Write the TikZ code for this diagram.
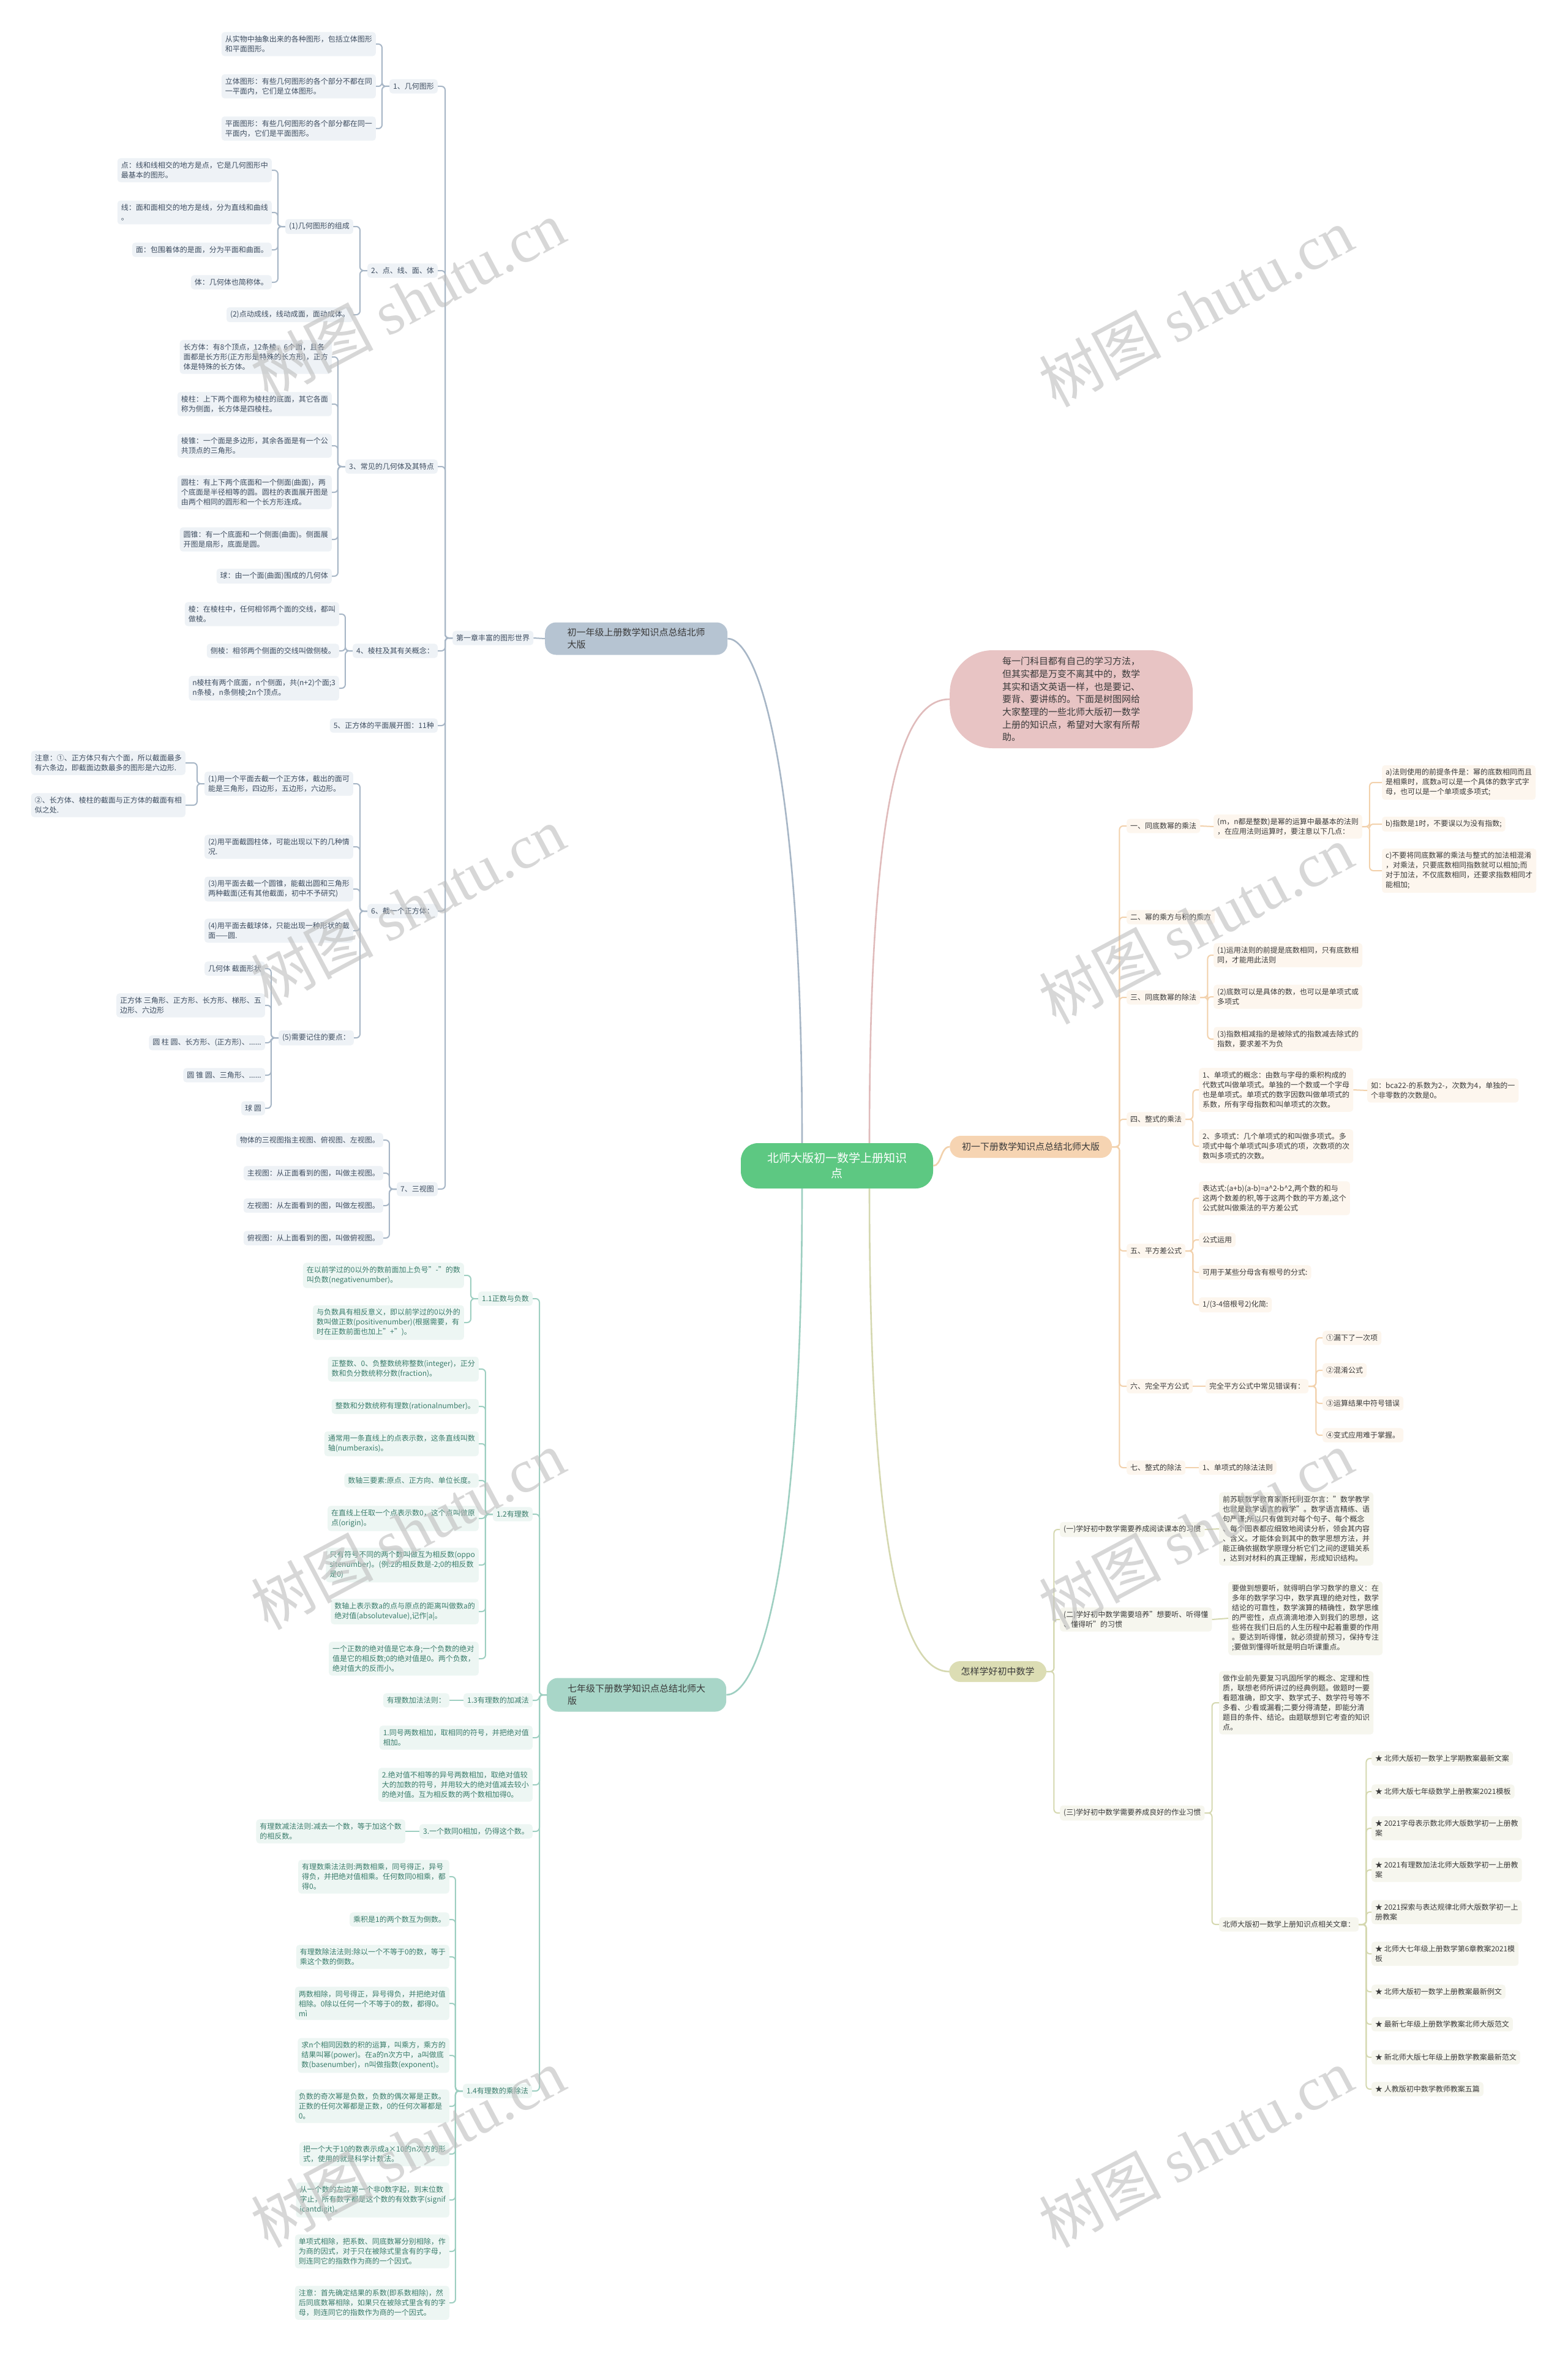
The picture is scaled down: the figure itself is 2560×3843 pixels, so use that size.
\documentclass[tikz,border=0pt]{standalone}
\usepackage{fontspec}
\setmainfont{Noto Sans CJK SC}
\newfontfamily\wmlatin{Liberation Serif}
\usetikzlibrary{calc}
\definecolor{bline}{HTML}{A7B6C6}
\definecolor{bfill}{HTML}{EEF2F6}
\definecolor{btext}{HTML}{3E4D60}
\definecolor{bmain}{HTML}{B6C4D2}
\definecolor{tline}{HTML}{9ECFC1}
\definecolor{tfill}{HTML}{EDF6F3}
\definecolor{ttext}{HTML}{3B7D6C}
\definecolor{tmain}{HTML}{A8D6C8}
\definecolor{pline}{HTML}{F2D1AC}
\definecolor{pfill}{HTML}{FDF6EE}
\definecolor{ptext}{HTML}{3A3A3A}
\definecolor{pmain}{HTML}{F6D4B2}
\definecolor{oline}{HTML}{D5D8B0}
\definecolor{ofill}{HTML}{F6F6EE}
\definecolor{omain}{HTML}{DCDDB4}
\definecolor{kfill}{HTML}{E8C4C4}
\definecolor{kline}{HTML}{E0BBBB}
\definecolor{cfill}{HTML}{5DC882}
\definecolor{wmark}{HTML}{BDBDBD}
\newcommand\mkL[4]{\node[#1,anchor=east] (#2) at (#3) {#4};}
\newcommand\mkR[4]{\node[#1,anchor=west] (#2) at (#3) {#4};}
\newcommand\lkL[3]{\draw[#1] (#2.west) -- ++(-12,0) |- (#3.east);}
\newcommand\lkR[3]{\draw[#1] (#2.east) -- ++(12,0) |- (#3.west);}
\tikzset{
  bx/.style={rounded corners=5pt, inner xsep=6pt, inner ysep=6pt, align=left, font=\fontsize{12}{16}\selectfont},
  bb/.style={bx, fill=bfill, text=btext},
  tb/.style={bx, fill=tfill, text=ttext},
  pb/.style={bx, fill=pfill, text=ptext},
  ob/.style={bx, fill=ofill, text=ptext},
  lnk/.style={line width=2pt, rounded corners=6pt},
  bln/.style={lnk, draw=bline},
  tln/.style={lnk, draw=tline},
  pln/.style={lnk, draw=pline},
  oln/.style={lnk, draw=oline},
  mainlink/.style={line width=2.6pt},
  topic/.style={rounded corners=18pt, font=\fontsize{15}{20}\selectfont, text=ptext},
  wm/.style={text=wmark, opacity=0.6, rotate=28, font=\fontsize{100}{100}\selectfont}
}
\begin{document}
\begin{tikzpicture}[x=1pt,y=-1pt]
\useasboundingbox[fill=white] (0,0) rectangle (2560,3843);

% ---------------- centre and topics
\node[fill=cfill, rounded corners=28pt, minimum width=314, minimum height=74, align=center, text=white, font=\fontsize{19}{25}\selectfont] (C) at (1367,1904) {北师大版初一数学上册知识\\点};
\mkR{topic, fill=bmain, minimum width=298, minimum height=53, align=left, inner xsep=28pt}{M1}{890,1043}{初一年级上册数学知识点总结北师\\大版}
\mkR{topic, fill=tmain, minimum width=293, minimum height=55, align=left, inner xsep=28pt}{M2}{893,2768}{七年级下册数学知识点总结北师大\\版}
\mkR{topic, fill=kfill, rounded corners=70pt, minimum width=397, minimum height=160, align=left, font=\fontsize{15}{20.7}\selectfont}{P}{1551,1142}{每一门科目都有自己的学习方法，\\但其实都是万变不离其中的，数学\\其实和语文英语一样，也是要记、\\要背、要讲练的。下面是树图网给\\大家整理的一些北师大版初一数学\\上册的知识点，希望对大家有所帮\\助。}
\mkR{topic, fill=pmain, minimum width=265, minimum height=36}{M3}{1551,1873}{初一下册数学知识点总结北师大版}
\mkR{topic, fill=omain, minimum width=159, minimum height=34}{M4}{1550,2730}{怎样学好初中数学}

% ---------------- first chapter (blue)
\mkR{bb}{CH1}{739,1042}{第一章丰富的图形世界}
\mkL{bb}{L1}{715,141}{1、几何图形}
\mkL{bb}{A1}{614,72}{从实物中抽象出来的各种图形，包括立体图形\\和平面图形。}
\mkL{bb}{A2}{614,141}{立体图形：有些几何图形的各个部分不都在同\\一平面内，它们是立体图形。}
\mkL{bb}{A3}{614,210}{平面图形：有些几何图形的各个部分都在同一\\平面内，它们是平面图形。}
\mkL{bb}{L2}{715,442}{2、点、线、面、体}
\mkL{bb}{B}{577,370}{(1)几何图形的组成}
\mkL{bb}{B1}{444,278}{点：线和线相交的地方是点，它是几何图形中\\最基本的图形。}
\mkL{bb}{B2}{444,347}{线：面和面相交的地方是线，分为直线和曲线\\。}
\mkL{bb}{B3}{444,408}{面：包围着体的是面，分为平面和曲面。}
\mkL{bb}{B4}{444,461}{体：几何体也简称体。}
\mkL{bb}{B5}{577,514}{(2)点动成线，线动成面，面动成体。}
\mkL{bb}{L3}{715,762}{3、常见的几何体及其特点}
\mkL{bb}{C1}{542,583}{长方体：有8个顶点，12条棱，6个面，且各\\面都是长方形(正方形是特殊的长方形)，正方\\体是特殊的长方体。}
\mkL{bb}{C2}{542,660}{棱柱：上下两个面称为棱柱的底面，其它各面\\称为侧面，长方体是四棱柱。}
\mkL{bb}{C3}{542,728}{棱锥：一个面是多边形，其余各面是有一个公\\共顶点的三角形。}
\mkL{bb}{C4}{542,804}{圆柱：有上下两个底面和一个侧面(曲面)，两\\个底面是半径相等的圆。圆柱的表面展开图是\\由两个相同的圆形和一个长方形连成。}
\mkL{bb}{C5}{542,881}{圆锥：有一个底面和一个侧面(曲面)。侧面展\\开图是扇形，底面是圆。}
\mkL{bb}{C6}{542,941}{球：由一个面(曲面)围成的几何体}
\mkL{bb}{L4}{715,1063}{4、棱柱及其有关概念：}
\mkL{bb}{D1}{554,1003}{棱：在棱柱中，任何相邻两个面的交线，都叫\\做棱。}
\mkL{bb}{D2}{554,1063}{侧棱：相邻两个侧面的交线叫做侧棱。}
\mkL{bb}{D3}{554,1124}{n棱柱有两个底面，n个侧面，共(n+2)个面;3\\n条棱，n条侧棱;2n个顶点。}
\mkL{bb}{L5}{715,1185}{5、正方体的平面展开图：11种}
\mkL{bb}{L6}{715,1488}{6、截一个正方体：}
\mkL{bb}{E1}{577,1280}{(1)用一个平面去截一个正方体，截出的面可\\能是三角形，四边形，五边形，六边形。}
\mkL{bb}{E1a}{303,1246}{注意：①、正方体只有六个面，所以截面最多\\有六条边，即截面边数最多的图形是六边形.}
\mkL{bb}{E1b}{303,1315}{②、长方体、棱柱的截面与正方体的截面有相\\似之处.}
\mkL{bb}{E2}{577,1383}{(2)用平面截圆柱体，可能出现以下的几种情\\况.}
\mkL{bb}{E3}{577,1452}{(3)用平面去截一个圆锥，能截出圆和三角形\\两种截面(还有其他截面，初中不予研究)}
\mkL{bb}{E4}{577,1520}{(4)用平面去截球体，只能出现一种形状的截\\面——圆.}
\mkL{bb}{E5}{578,1695}{(5)需要记住的要点：}
\mkL{bb}{E5a}{433,1582}{几何体 截面形状}
\mkL{bb}{E5b}{433,1642}{正方体 三角形、正方形、长方形、梯形、五\\边形、六边形}
\mkL{bb}{E5c}{433,1703}{圆 柱 圆、长方形、(正方形)、......}
\mkL{bb}{E5d}{433,1756}{圆 锥 圆、三角形、......}
\mkL{bb}{E5e}{433,1810}{球 圆}
\mkL{bb}{L7}{715,1942}{7、三视图}
\mkL{bb}{F1}{626,1862}{物体的三视图指主视图、俯视图、左视图。}
\mkL{bb}{F2}{626,1916}{主视图：从正面看到的图，叫做主视图。}
\mkL{bb}{F3}{626,1969}{左视图：从左面看到的图，叫做左视图。}
\mkL{bb}{F4}{626,2022}{俯视图：从上面看到的图，叫做俯视图。}

% ---------------- seventh grade (teal)
\mkL{tb}{G1}{870,2121}{1.1正数与负数}
\mkL{tb}{G1a}{758,2083}{在以前学过的0以外的数前面加上负号"-"的数\\叫负数(negativenumber)。}
\mkL{tb}{G1b}{758,2160}{与负数具有相反意义，即以前学过的0以外的\\数叫做正数(positivenumber)(根据需要，有\\时在正数前面也加上"+")。}
\mkL{tb}{G2}{870,2473}{1.2有理数}
\mkL{tb}{G2a}{782,2236}{正整数、0、负整数统称整数(integer)，正分\\数和负分数统称分数(fraction)。}
\mkL{tb}{G2b}{782,2297}{整数和分数统称有理数(rationalnumber)。}
\mkL{tb}{G2c}{782,2358}{通常用一条直线上的点表示数，这条直线叫数\\轴(numberaxis)。}
\mkL{tb}{G2d}{782,2418}{数轴三要素:原点、正方向、单位长度。}
\mkL{tb}{G2e}{782,2480}{在直线上任取一个点表示数0，这个点叫做原\\点(origin)。}
\mkL{tb}{G2f}{782,2556}{只有符号不同的两个数叫做互为相反数(oppo\\sitenumber)。(例:2的相反数是-2;0的相反数\\是0)}
\mkL{tb}{G2g}{782,2632}{数轴上表示数a的点与原点的距离叫做数a的\\绝对值(absolutevalue),记作|a|。}
\mkL{tb}{G2h}{782,2709}{一个正数的绝对值是它本身;一个负数的绝对\\值是它的相反数;0的绝对值是0。两个负数，\\绝对值大的反而小。}
\mkL{tb}{G3}{870,2777}{1.3有理数的加减法}
\mkL{tb}{G3a}{734,2777}{有理数加法法则：}
\mkL{tb}{G4}{870,2838}{1.同号两数相加，取相同的符号，并把绝对值\\相加。}
\mkL{tb}{G5}{870,2915}{2.绝对值不相等的异号两数相加，取绝对值较\\大的加数的符号，并用较大的绝对值减去较小\\的绝对值。互为相反数的两个数相加得0。}
\mkL{tb}{G6}{870,2991}{3.一个数同0相加，仍得这个数。}
\mkL{tb}{G6a}{662,2991}{有理数减法法则:减去一个数，等于加这个数\\的相反数。}
\mkL{tb}{G7}{869,3415}{1.4有理数的乘除法}
\mkL{tb}{G7a}{734,3065}{有理数乘法法则:两数相乘，同号得正，异号\\得负，并把绝对值相乘。任何数同0相乘，都\\得0。}
\mkL{tb}{G7b}{734,3135}{乘积是1的两个数互为倒数。}
\mkL{tb}{G7c}{734,3196}{有理数除法法则:除以一个不等于0的数，等于\\乘这个数的倒数。}
\mkL{tb}{G7d}{734,3272}{两数相除，同号得正，异号得负，并把绝对值\\相除。0除以任何一个不等于0的数，都得0。\\mì}
\mkL{tb}{G7e}{734,3357}{求n个相同因数的积的运算，叫乘方，乘方的\\结果叫幂(power)。在a的n次方中，a叫做底\\数(basenumber)，n叫做指数(exponent)。}
\mkL{tb}{G7f}{734,3440}{负数的奇次幂是负数，负数的偶次幂是正数。\\正数的任何次幂都是正数，0的任何次幂都是\\0。}
\mkL{tb}{G7g}{734,3518}{把一个大于10的数表示成a×10的n次方的形\\式，使用的就是科学计数法。}
\mkL{tb}{G7h}{734,3593}{从一个数的左边第一个非0数字起，到末位数\\字止，所有数字都是这个数的有效数字(signif\\icantdigit)。}
\mkL{tb}{G7i}{734,3677}{单项式相除，把系数、同底数幂分别相除，作\\为商的因式，对于只在被除式里含有的字母，\\则连同它的指数作为商的一个因式。}
\mkL{tb}{G7j}{734,3761}{注意：首先确定结果的系数(即系数相除)，然\\后同底数幂相除，如果只在被除式里含有的字\\母，则连同它的指数作为商的一个因式。}

% ---------------- lower book (peach)
\mkR{pb}{R1}{1840,1349}{一、同底数幂的乘法}
\mkR{pb}{R1a}{1982,1350}{(m，n都是整数)是幂的运算中最基本的法则\\，在应用法则运算时，要注意以下几点：}
\mkR{pb}{R1a1}{2257,1278}{a)法则使用的前提条件是：幂的底数相同而且\\是相乘时，底数a可以是一个具体的数字式字\\母，也可以是一个单项或多项式;}
\mkR{pb}{R1a2}{2257,1346}{b)指数是1时，不要误以为没有指数;}
\mkR{pb}{R1a3}{2257,1422}{c)不要将同底数幂的乘法与整式的加法相混淆\\，对乘法，只要底数相同指数就可以相加;而\\对于加法，不仅底数相同，还要求指数相同才\\能相加;}
\mkR{pb}{R2}{1840,1498}{二、幂的乘方与积的乘方}
\mkR{pb}{R3}{1840,1629}{三、同底数幂的除法}
\mkR{pb}{R3a}{1982,1560}{(1)运用法则的前提是底数相同，只有底数相\\同，才能用此法则}
\mkR{pb}{R3b}{1982,1628}{(2)底数可以是具体的数，也可以是单项式或\\多项式}
\mkR{pb}{R3c}{1982,1697}{(3)指数相减指的是被除式的指数减去除式的\\指数，要求差不为负}
\mkR{pb}{R4}{1840,1828}{四、整式的乘法}
\mkR{pb}{R4a}{1958,1780}{1、单项式的概念：由数与字母的乘积构成的\\代数式叫做单项式。单独的一个数或一个字母\\也是单项式。单项式的数字因数叫做单项式的\\系数，所有字母指数和叫单项式的次数。}
\mkR{pb}{R4a1}{2233,1781}{如：bca22-的系数为2-，次数为4，单独的一\\个非零数的次数是0。}
\mkR{pb}{R4b}{1958,1872}{2、多项式：几个单项式的和叫做多项式。多\\项式中每个单项式叫多项式的项，次数项的次\\数叫多项式的次数。}
\mkR{pb}{R5}{1840,2043}{五、平方差公式}
\mkR{pb}{R5a}{1958,1957}{表达式:(a+b)(a-b)=a\textasciicircum2-b\textasciicircum2,两个数的和与\\这两个数差的积,等于这两个数的平方差,这个\\公式就叫做乘法的平方差公式}
\mkR{pb}{R5b}{1958,2025}{公式运用}
\mkR{pb}{R5c}{1958,2078}{可用于某些分母含有根号的分式:}
\mkR{pb}{R5d}{1958,2131}{1/(3-4倍根号2)化简:}
\mkR{pb}{R6}{1840,2264}{六、完全平方公式}
\mkR{pb}{R6a}{1969,2264}{完全平方公式中常见错误有：}
\mkR{pb}{R6a1}{2160,2185}{①漏下了一次项}
\mkR{pb}{R6a2}{2160,2238}{②混淆公式}
\mkR{pb}{R6a3}{2160,2292}{③运算结果中符号错误}
\mkR{pb}{R6a4}{2160,2344}{④变式应用难于掌握。}
\mkR{pb}{R7}{1840,2397}{七、整式的除法}
\mkR{pb}{R7a}{1958,2397}{1、单项式的除法法则}

% ---------------- how to learn (olive)
\mkR{ob}{S1}{1731,2498}{(一)学好初中数学需要养成阅读课本的习惯}
\mkR{ob}{S1a}{1991,2497}{前苏联数学教育家斯托利亚尔言："数学教学\\也就是数学语言的教学"。数学语言精练、语\\句严谨;所以只有做到对每个句子、每个概念\\、每个图表都应细致地阅读分析，领会其内容\\、含义。才能体会到其中的数学思想方法，并\\能正确依据数学原理分析它们之间的逻辑关系\\，达到对材料的真正理解，形成知识结构。}
\mkR{ob}{S2}{1731,2645}{(二)学好初中数学需要培养"想要听、听得懂\\、懂得听"的习惯}
\mkR{ob}{S2a}{2006,2643}{要做到想要听，就得明白学习数学的意义：在\\多年的数学学习中，数学真理的绝对性，数学\\结论的可靠性，数学演算的精确性，数学思维\\的严密性，点点滴滴地渗入到我们的思想，这\\些将在我们日后的人生历程中起着重要的作用\\。要达到听得懂，就必须提前预习，保持专注\\;要做到懂得听就是明白听课重点。}
\mkR{ob}{S3}{1731,2961}{(三)学好初中数学需要养成良好的作业习惯}
\mkR{ob}{S3a}{1991,2781}{做作业前先要复习巩固所学的概念、定理和性\\质，联想老师所讲过的经典例题。做题时一要\\看题准确，即文字、数学式子、数学符号等不\\多看、少看或漏看;二要分得清楚，即能分清\\题目的条件、结论。由题联想到它考查的知识\\点。}
\mkR{ob}{S3b}{1991,3143}{北师大版初一数学上册知识点相关文章：}
\mkR{ob}{K1}{2240,2872}{★ 北师大版初一数学上学期教案最新文案}
\mkR{ob}{K2}{2240,2926}{★ 北师大版七年级数学上册教案2021模板}
\mkR{ob}{K3}{2240,2986}{★ 2021字母表示数北师大版数学初一上册教\\案}
\mkR{ob}{K4}{2240,3054}{★ 2021有理数加法北师大版数学初一上册教\\案}
\mkR{ob}{K5}{2240,3123}{★ 2021探索与表达规律北师大版数学初一上\\册教案}
\mkR{ob}{K6}{2240,3191}{★ 北师大七年级上册数学第6章教案2021模\\板}
\mkR{ob}{K7}{2240,3253}{★ 北师大版初一数学上册教案最新例文}
\mkR{ob}{K8}{2240,3306}{★ 最新七年级上册数学教案北师大版范文}
\mkR{ob}{K9}{2240,3360}{★ 新北师大版七年级上册数学教案最新范文}
\mkR{ob}{K10}{2240,3412}{★ 人教版初中数学教师教案五篇}

% ---------------- links blue
\draw[bln] (CH1.east) -- (M1.west);
\foreach \c in {L1,L2,L3,L4,L5,L6,L7} {\lkL{bln}{CH1}{\c}}
\foreach \c in {A1,A2,A3} {\lkL{bln}{L1}{\c}}
\foreach \c in {B,B5} {\lkL{bln}{L2}{\c}}
\foreach \c in {B1,B2,B3,B4} {\lkL{bln}{B}{\c}}
\foreach \c in {C1,C2,C3,C4,C5,C6} {\lkL{bln}{L3}{\c}}
\foreach \c in {D1,D2,D3} {\lkL{bln}{L4}{\c}}
\foreach \c in {E1,E2,E3,E4,E5} {\lkL{bln}{L6}{\c}}
\foreach \c in {E1a,E1b} {\lkL{bln}{E1}{\c}}
\foreach \c in {E5a,E5b,E5c,E5d,E5e} {\lkL{bln}{E5}{\c}}
\foreach \c in {F1,F2,F3,F4} {\lkL{bln}{L7}{\c}}
% teal
\foreach \c in {G1,G2,G3,G4,G5,G6,G7} {\lkL{tln}{M2}{\c}}
\foreach \c in {G1a,G1b} {\lkL{tln}{G1}{\c}}
\foreach \c in {G2a,G2b,G2c,G2d,G2e,G2f,G2g,G2h} {\lkL{tln}{G2}{\c}}
\draw[tln] (G3.west) -- (G3a.east);
\draw[tln] (G6.west) -- (G6a.east);
\foreach \c in {G7a,G7b,G7c,G7d,G7e,G7f,G7g,G7h,G7i,G7j} {\lkL{tln}{G7}{\c}}
% peach
\foreach \c in {R1,R2,R3,R4,R5,R6,R7} {\lkR{pln}{M3}{\c}}
\draw[pln] (R1.east) -- (R1a.west);
\foreach \c in {R1a1,R1a2,R1a3} {\lkR{pln}{R1a}{\c}}
\foreach \c in {R3a,R3b,R3c} {\lkR{pln}{R3}{\c}}
\foreach \c in {R4a,R4b} {\lkR{pln}{R4}{\c}}
\draw[pln] (R4a.east) -- (R4a1.west);
\foreach \c in {R5a,R5b,R5c,R5d} {\lkR{pln}{R5}{\c}}
\draw[pln] (R6.east) -- (R6a.west);
\foreach \c in {R6a1,R6a2,R6a3,R6a4} {\lkR{pln}{R6a}{\c}}
\draw[pln] (R7.east) -- (R7a.west);
% olive
\foreach \c in {S1,S2,S3} {\lkR{oln}{M4}{\c}}
\draw[oln] (S1.east) -- (S1a.west);
\draw[oln] (S2.east) -- (S2a.west);
\foreach \c in {S3a,S3b} {\lkR{oln}{S3}{\c}}
\foreach \c in {K1,K2,K3,K4,K5,K6,K7,K8,K9,K10} {\lkR{oln}{S3b}{\c}}

% ---------------- main links from the centre
\draw[mainlink, bline] ($(C.north)+(-57,0)$) .. controls ($(C.north)+(-57,-600)$) and (1240,1043) .. (M1.east);
\draw[mainlink, tline] ($(C.south)+(-57,0)$) .. controls ($(C.south)+(-57,620)$) and (1240,2768) .. (M2.east);
\draw[mainlink, kline] ($(C.north)+(53,0)$) .. controls ($(C.north)+(53,-600)$) and (1480,1142) .. (P.west);
\draw[mainlink, pline] (C.east) .. controls (1538,1904) and (1536,1873) .. (M3.west);
\draw[mainlink, oline] ($(C.south)+(53,0)$) .. controls ($(C.south)+(53,620)$) and (1480,2730) .. (M4.west);

% ---------------- watermarks
\foreach \wx/\wy [count=\i] in {666/490, 1953/502, 666/1480, 1953/1510, 666/2499, 1953/2499, 666/3508, 1953/3508} {
  \node[wm] (W\i) at (\wx,\wy) {树图 {\wmlatin shutu.cn}};
}
\end{tikzpicture}
\end{document}
